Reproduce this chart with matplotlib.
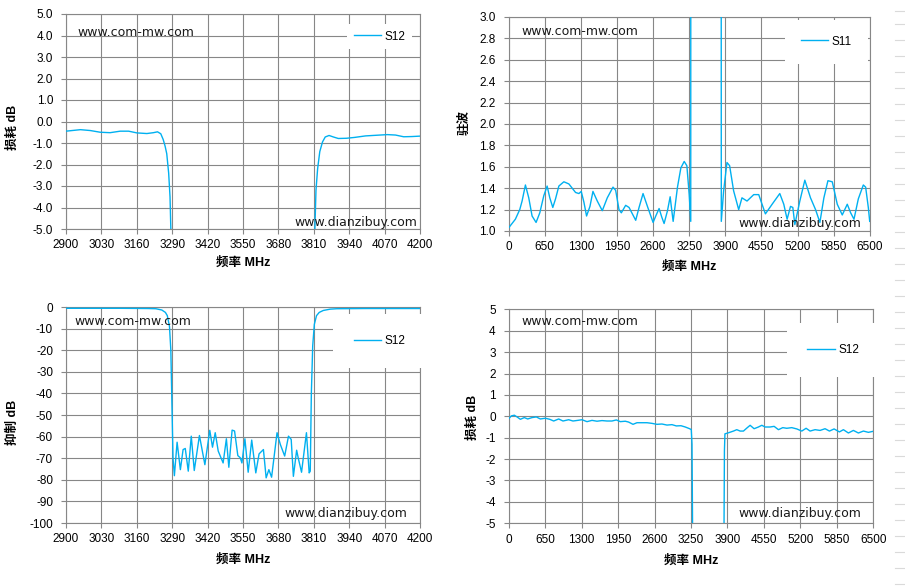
import numpy as np
import matplotlib
matplotlib.use('Agg')
import matplotlib.pyplot as plt
from matplotlib.lines import Line2D
from matplotlib.ticker import FixedLocator, FuncFormatter

plt.rcParams['font.family'] = ['Liberation Sans', 'Noto Sans CJK SC', 'DejaVu Sans']
plt.rcParams['axes.unicode_minus'] = False

BLUE = '#00B0F0'
GRID = '#878787'

# top-left: S12 insertion loss around the notch (dB)
tl_freq = [2900, 2953, 2989, 3026, 3062, 3099, 3130, 3160, 3197, 3221,
           3236, 3248, 3257, 3264, 3270, 3277, 3282, 3285, 3292,
           3805, 3814, 3818, 3824, 3832, 3842, 3852, 3866, 3882, 3900,
           3930, 3960, 4000, 4040, 4080, 4110, 4140, 4170, 4200]
tl_loss = [-0.45, -0.38, -0.42, -0.50, -0.52, -0.45, -0.45, -0.53, -0.56, -0.52,
           -0.48, -0.57, -0.84, -1.15, -1.5, -2.4, -3.5, -5.0, -60,
           -60, -5.0, -3.2, -2.2, -1.4, -0.95, -0.72, -0.65, -0.72, -0.79,
           -0.78, -0.74, -0.67, -0.64, -0.61, -0.63, -0.71, -0.70, -0.68]

# top-right: S11 VSWR, 0-6500 MHz
tr_freq = [0, 120, 199, 241, 301, 361, 421, 493, 560, 632,
           692, 740, 794, 843, 903, 993, 1083, 1204, 1264, 1306,
           1354, 1402, 1463, 1517, 1595, 1685, 1775, 1878, 1926, 1986,
           2028, 2106, 2167, 2287, 2347, 2419, 2498, 2600, 2648, 2708,
           2756, 2798, 2859, 2907, 2937, 2961, 3039, 3100, 3160, 3208,
           3250, 3278, 3282,
           3815, 3828, 3870, 3930, 3978, 4050, 4141, 4200, 4291, 4412,
           4502, 4562, 4622, 4743, 4881, 4953, 5013, 5074, 5116, 5152,
           5242, 5332, 5434, 5525, 5603, 5675, 5748, 5826, 5916, 6006,
           6096, 6157, 6217, 6295, 6385, 6427, 6475, 6500]
tr_vswr = [1.03, 1.11, 1.20, 1.28, 1.43, 1.31, 1.14, 1.08, 1.17, 1.33,
           1.42, 1.31, 1.22, 1.30, 1.42, 1.46, 1.44, 1.36, 1.35, 1.37,
           1.27, 1.14, 1.23, 1.37, 1.28, 1.19, 1.31, 1.41, 1.38, 1.20,
           1.17, 1.24, 1.22, 1.10, 1.22, 1.35, 1.23, 1.08, 1.14, 1.21,
           1.13, 1.07, 1.19, 1.32, 1.19, 1.09, 1.41, 1.59, 1.65, 1.61,
           1.34, 1.09, 20,
           20, 1.09, 1.375, 1.64, 1.61, 1.375, 1.20, 1.31, 1.28, 1.34,
           1.34, 1.25, 1.16, 1.25, 1.35, 1.25, 1.11, 1.23, 1.22, 1.06,
           1.28, 1.475, 1.31, 1.20, 1.08, 1.31, 1.47, 1.46, 1.25, 1.15,
           1.25, 1.17, 1.11, 1.30, 1.43, 1.41, 1.22, 1.09]

# bottom-left: S12 rejection (dB)
bl_freq = [2900, 3000, 3100, 3200, 3230, 3252, 3265, 3272, 3280, 3285,
           3289, 3293,
           3298, 3308, 3320, 3330, 3338, 3349, 3360, 3371, 3390, 3410,
           3428, 3438, 3448, 3459, 3477, 3489, 3498, 3510, 3519, 3531,
           3540, 3546, 3557, 3569, 3582, 3597, 3609, 3625, 3635, 3645,
           3655, 3675, 3687, 3703, 3717, 3727, 3735, 3747, 3753, 3765,
           3783, 3793,
           3797, 3801, 3806, 3812, 3820, 3830, 3845, 3870, 3894, 4000,
           4100, 4200]
bl_rej = [-0.6, -0.6, -0.6, -0.7, -0.8, -1.4, -2.5, -4, -9, -20,
          -45, -70,
          -78.1, -62.6, -75.3, -66, -65.5, -76, -59.8, -75.7, -59.5, -73,
          -57.1, -64.9, -58.2, -66.7, -72.2, -61, -74.2, -57, -57.4, -68.8,
          -69.8, -72.2, -61, -76.5, -61.6, -76.8, -68, -66, -79.1, -75.3,
          -78.8, -58.2, -63.6, -69, -59.8, -61.3, -78.4, -66.3, -70, -76.5,
          -58.2, -76.8,
          -76, -40, -18, -8, -4, -2.5, -1.6, -1.0, -0.8, -0.7,
          -0.7, -0.7]

# bottom-right: S12 insertion loss, 0-6500 MHz (dB)
br_freq = [0, 48, 101, 149, 208, 279, 339, 416, 493, 564,
           653, 731, 802, 891, 968, 1069, 1146, 1230, 1307, 1396,
           1485, 1574, 1663, 1752, 1841, 1919, 1990, 2079, 2138, 2216,
           2287, 2376, 2465, 2554, 2643, 2732, 2822, 2911, 2988, 3071,
           3148, 3225, 3255, 3268, 3278, 3285,
           3830, 3838, 3846, 3855,
           3918, 4007, 4066, 4126, 4185, 4245, 4304, 4375, 4452, 4512,
           4571, 4660, 4732, 4809, 4886, 4957, 5046, 5136, 5225, 5302,
           5373, 5462, 5551, 5640, 5718, 5801, 5896, 5967, 6056, 6145,
           6234, 6324, 6413, 6500]
br_loss = [-0.11, 0.02, 0.05, -0.03, -0.14, -0.06, -0.125, -0.06, -0.03, -0.125,
           -0.09, -0.14, -0.22, -0.125, -0.22, -0.16, -0.22, -0.19, -0.16, -0.25,
           -0.19, -0.23, -0.20, -0.22, -0.22, -0.17, -0.25, -0.23, -0.27, -0.375,
           -0.30, -0.30, -0.30, -0.33, -0.375, -0.36, -0.41, -0.39, -0.45, -0.44,
           -0.50, -0.58, -0.62, -1.3, -5.2, -40,
           -40, -5.5, -1.6, -0.82,
           -0.77, -0.69, -0.625, -0.69, -0.69, -0.55, -0.42, -0.58, -0.50, -0.42,
           -0.50, -0.50, -0.47, -0.625, -0.53, -0.56, -0.53, -0.59, -0.69, -0.56,
           -0.69, -0.625, -0.66, -0.58, -0.69, -0.59, -0.73, -0.625, -0.78, -0.66,
           -0.78, -0.69, -0.75, -0.70]

W, H = 905, 588


def box(l, t, r, b):
    return [l / W, 1 - b / H, (r - l) / W, (b - t) / H]


def fmt(decimals):
    def f(v, pos):
        s = f'{v:.{decimals}f}'
        return '0.0' if s == '-0.0' else ('0' if s == '-0' else s)
    return FuncFormatter(f)


def panel(rect, freq, vals, xticks, yticks, ydec, label, ylabel,
          leg_xy, leg_pad, mark_pos, ylab_pos, xlab_y):
    ax = fig.add_axes(rect)
    ax.plot(freq, vals, color=BLUE, lw=1.0, label=label, zorder=3)
    ax.set_xlim(xticks[0], xticks[-1])
    ax.set_ylim(yticks[0], yticks[-1])
    ax.xaxis.set_major_locator(FixedLocator(xticks))
    ax.yaxis.set_major_locator(FixedLocator(yticks))
    ax.yaxis.set_major_formatter(fmt(ydec))
    ax.grid(True, color=GRID, lw=0.8)
    ax.set_axisbelow(True)
    for sp in ax.spines.values():
        sp.set_color(GRID)
        sp.set_linewidth(0.8)
    ax.tick_params(direction='out', color=GRID, width=0.8, labelsize=8.5,
                   labelcolor='black')
    ax.tick_params(axis='x', length=3.5, pad=4)
    ax.tick_params(axis='y', length=3.8, pad=5.5)
    leg = ax.legend(loc='center', bbox_to_anchor=leg_xy, fontsize=8.5,
                    frameon=True, fancybox=False, framealpha=1,
                    facecolor='white', edgecolor='none', handlelength=2.3,
                    handletextpad=0.3, borderpad=leg_pad, borderaxespad=0)
    leg.set_zorder(4)
    (lx, ly), (rx, ry) = mark_pos
    ax.text(lx, ly, 'www.com-mw.com', transform=ax.transAxes, ha='left',
            va='center', fontsize=9, family='DejaVu Sans', color='#1a1a1a',
            zorder=5)
    ax.text(rx, ry, 'www.dianzibuy.com', transform=ax.transAxes, ha='right',
            va='center', fontsize=9, family='DejaVu Sans', color='#1a1a1a',
            zorder=5)
    ax.text(ylab_pos[0], ylab_pos[1], ylabel, transform=ax.transAxes,
            rotation=90, ha='center', va='center', fontsize=9,
            fontweight='bold')
    ax.text(0.5, xlab_y, '频率 MHz', transform=ax.transAxes, ha='center',
            va='center', fontsize=9, fontweight='bold')
    return ax


fig = plt.figure(figsize=(W / 100, H / 100), dpi=100)

panel(box(66, 14, 420, 229), tl_freq, tl_loss,
      list(range(2900, 4201, 130)), list(range(-5, 6)), 1, 'S12', '损耗 dB',
      (0.885, 0.895), 0.55, ((0.031, 0.916), (0.992, 0.028)),
      (-0.15, 0.474), -0.158)

panel(box(508.7, 17, 869.7, 231), tr_freq, tr_vswr,
      list(range(0, 6501, 650)), list(np.round(np.arange(1.0, 3.01, 0.2), 1)),
      1, 'S11', '驻波',
      (0.88, 0.885), 1.35, ((0.036, 0.93), (0.978, 0.037)),
      (-0.121, 0.505), -0.168)

panel(box(66, 307, 420, 523), bl_freq, bl_rej,
      list(range(2900, 4201, 130)), list(range(-100, 1, 10)), 0, 'S12', '抑制 dB',
      (0.885, 0.843), 1.75, ((0.0226, 0.935), (0.963, 0.046)),
      (-0.15, 0.468), -0.171)

panel(box(508.7, 309.3, 873.3, 523.3), br_freq, br_loss,
      list(range(0, 6501, 650)), list(range(-5, 6)), 0, 'S12', '损耗 dB',
      (0.89, 0.81), 1.75, ((0.036, 0.942), (0.968, 0.048)),
      (-0.098, 0.497), -0.176)

# faint worksheet cell borders at the right edge
for y in [11, 24] + list(np.arange(40.3, 585, 16)):
    fig.add_artist(Line2D([895 / W, 1.0], [1 - y / H] * 2, color='#dadada',
                          lw=0.8))

fig.savefig('out.png', dpi=100, facecolor='white')
